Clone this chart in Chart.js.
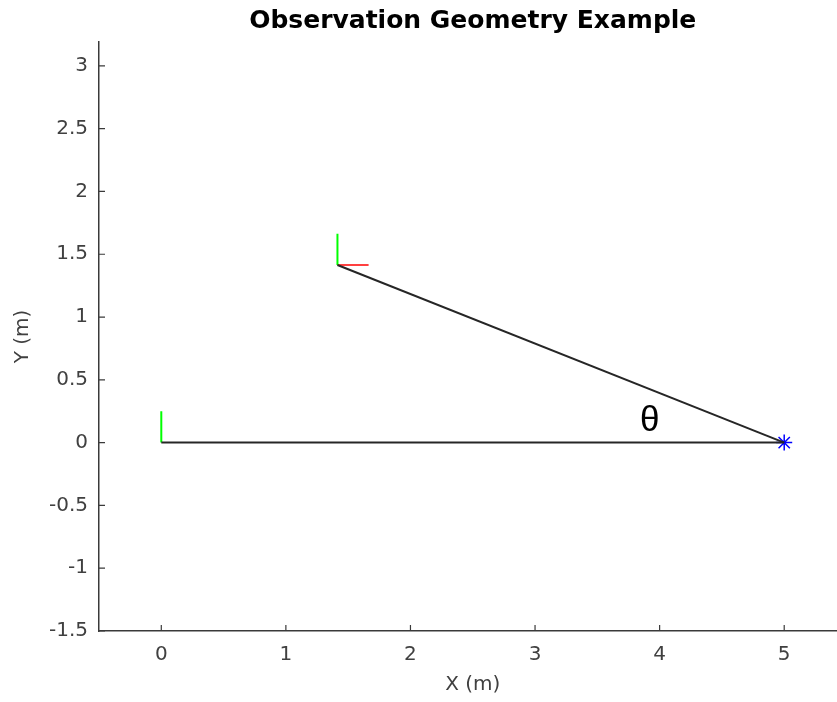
<!DOCTYPE html>
<html>
<head>
<meta charset="utf-8">
<script src="https://cdn.jsdelivr.net/npm/chart.js@4.4.1/dist/chart.umd.min.js"></script>
<style>
    html, body { margin: 0; padding: 0; background: #fff; overflow: hidden; }
</style>
</head>
<body>
<canvas id="geom" width="856" height="702"></canvas>
<script>
// Observation geometry (metres)
const baseLineX = [0, 5];
const baseLineY = [0, 0];
const sightLineX = [1.414, 5];
const sightLineY = [1.414, 0];
const originFrameX = [0, 0];
const originFrameY = [0, 0.25];
const observerUpX = [1.414, 1.414];
const observerUpY = [1.414, 1.664];
const observerFwdX = [1.414, 1.664];
const observerFwdY = [1.414, 1.414];
const targetX = [5];
const targetY = [0];

const xTicks = [0, 1, 2, 3, 4, 5];
const yTicks = [-1.5, -1, -0.5, 0, 0.5, 1, 1.5, 2, 2.5, 3];
const thetaLabel = { text: '\u03b8', x: 3.92, y: 0.17 };

const AXIS_COLOR = '#3a3a3a';
const FONT = '"DejaVu Sans", sans-serif';

function toPoints(xs, ys) {
    return xs.map((x, i) => ({ x: x, y: ys[i] }));
}

function line(xs, ys, color, width) {
    return {
        data: toPoints(xs, ys),
        showLine: true,
        borderColor: color,
        borderWidth: width,
        pointRadius: 0,
        fill: false
    };
}

// MATLAB style ticks pointing into the plot, plus the angle label
const matlabTicks = {
    id: 'matlabTicks',
    afterDatasetsDraw(chart) {
        const { ctx, chartArea, scales } = chart;
        ctx.save();
        ctx.strokeStyle = AXIS_COLOR;
        ctx.lineWidth = 1.2;
        ctx.beginPath();
        xTicks.forEach(v => {
            const px = scales.x.getPixelForValue(v);
            ctx.moveTo(px, chartArea.bottom);
            ctx.lineTo(px, chartArea.bottom - 6);
        });
        yTicks.forEach(v => {
            const py = scales.y.getPixelForValue(v);
            ctx.moveTo(chartArea.left, py);
            ctx.lineTo(chartArea.left + 6, py);
        });
        ctx.stroke();

        ctx.fillStyle = '#000';
        ctx.font = '35px "Liberation Sans", Arial, sans-serif';
        ctx.textAlign = 'center';
        ctx.textBaseline = 'middle';
        ctx.fillText(thetaLabel.text,
            scales.x.getPixelForValue(thetaLabel.x),
            scales.y.getPixelForValue(thetaLabel.y));
        ctx.restore();
    }
};

new Chart(document.getElementById('geom'), {
    type: 'scatter',
    data: {
        datasets: [
            line(baseLineX, baseLineY, '#262626', 2),
            line(sightLineX, sightLineY, '#262626', 2),
            line(originFrameX, originFrameY, '#00ff00', 2),
            line(observerUpX, observerUpY, '#00ff00', 2),
            line(observerFwdX, observerFwdY, '#ff0000', 1.5),
            {
                data: toPoints(targetX, targetY),
                pointStyle: 'star',
                pointRadius: 8,
                borderColor: '#0000ff',
                backgroundColor: '#0000ff',
                borderWidth: 1.5
            }
        ]
    },
    options: {
        responsive: false,
        animation: false,
        layout: { padding: { top: 0, right: 4, bottom: 0, left: 0 } },
        plugins: {
            legend: { display: false },
            tooltip: { enabled: false },
            title: {
                display: true,
                text: 'Observation Geometry Example',
                fullSize: false,
                color: '#000',
                font: { family: FONT, size: 25, weight: 'bold', lineHeight: 1.2 },
                padding: { top: 6, bottom: 6 }
            }
        },
        scales: {
            x: {
                type: 'linear',
                min: -0.5,
                max: 5.5,
                afterBuildTicks: s => { s.ticks = xTicks.map(v => ({ value: v })); },
                afterFit: s => { s.height = 71; },
                grid: { display: true, drawOnChartArea: false, drawTicks: false },
                border: { display: true, color: AXIS_COLOR, width: 1.5 },
                ticks: {
                    color: '#404040',
                    padding: 12,
                    callback: v => String(v),
                    font: { family: FONT, size: 20 }
                },
                title: {
                    display: true,
                    text: 'X (m)',
                    color: '#404040',
                    padding: { top: 0, bottom: 5 },
                    font: { family: FONT, size: 20 }
                }
            },
            y: {
                type: 'linear',
                min: -1.5,
                max: 3.19,
                afterBuildTicks: s => { s.ticks = yTicks.map(v => ({ value: v })); },
                afterFit: s => { s.width = 99; },
                grid: { display: true, drawOnChartArea: false, drawTicks: false },
                border: { display: true, color: AXIS_COLOR, width: 1.5 },
                ticks: {
                    color: '#404040',
                    padding: 11,
                    callback: v => String(v),
                    font: { family: FONT, size: 20 }
                },
                title: {
                    display: true,
                    text: 'Y (m)',
                    color: '#404040',
                    padding: { top: 11, bottom: 0 },
                    font: { family: FONT, size: 20 }
                }
            }
        }
    },
    plugins: [matlabTicks]
});
</script>
</body>
</html>
